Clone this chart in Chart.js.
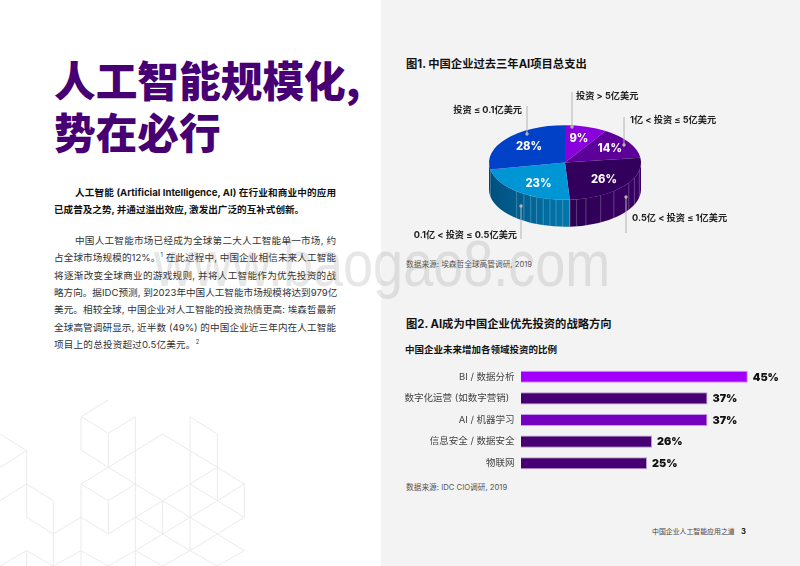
<!DOCTYPE html>
<html lang="zh-CN"><head><meta charset="utf-8">
<script src="https://cdn.jsdelivr.net/npm/chart.js@4"></script>
<style>
html,body{margin:0;padding:0;width:800px;height:566px;overflow:hidden;background:#fff;}
body{position:relative;font-family:Inter,'Noto Sans CJK SC',sans-serif;color:#222;}
#panel{position:absolute;left:381px;top:0;width:419px;height:566px;background:#f3f3f4;}
#hex{position:absolute;left:0;top:390px;}
.t{position:absolute;white-space:nowrap;line-height:1;}
#title{left:54px;top:53px;font:900 41.7px/52px 'Noto Sans CJK SC',sans-serif;color:#460073;white-space:pre;}
.para{position:absolute;left:54px;width:282px;font-size:9.6px;line-height:17.35px;color:#333;}
.para div{text-align:justify;text-align-last:justify;white-space:nowrap;}
.para .in{padding-left:21px;}
.para.b{font-weight:700;color:#111;}
sup{font-size:5.5px;line-height:0;vertical-align:super;}
.h{font-weight:700;font-size:11.3px;color:#111;}
.sub{font-weight:700;font-size:9.5px;color:#111;}
.src{font-size:7.7px;color:#555;}
#wm{position:absolute;left:154px;top:237px;font:54px/66px 'Liberation Sans',sans-serif;color:rgba(120,120,120,.18);white-space:nowrap;transform:scaleY(1.2);transform-origin:0 100%;z-index:5;}
canvas{display:block;}
#pieWrap{position:absolute;left:400px;top:80px;width:360px;height:170px;}
#barWrap{position:absolute;left:390px;top:360px;width:400px;height:120px;}
</style></head><body>
<div id="panel"></div>
<svg id="hex" width="260" height="176" viewBox="0 0 780 528" fill="none" stroke="#ebebeb" stroke-width="3">
<path d="M243 80L325 30M243 80L325 130L406 80V528M243 80V180L325 232L406 182L488 132L570 182L652 232L733 282V382L652 332L733 282M325 130V232M570 80L652 132V332M570 80V482M652 232L570 282L488 332L406 282L325 232L243 282L325 332L406 282M325 332V432M243 282V528M243 382L325 432L406 382L488 332V432L406 382M488 332L570 382L652 332L570 282M570 382L488 432M570 382L652 432L733 382M652 432L733 482L652 528M652 432L570 482L488 432L406 482L325 528M406 482L488 528L570 482L652 528"/>
<path d="M0 132L80 182L0 232M80 182V382L160 432L243 382M80 282L0 332M80 282L160 332V528L243 482L325 528M80 482L0 528M80 482L160 528M80 482V528"/>
</svg>
<div class="t" id="title">人工智能规模化,
势在必行</div>
<div class="para b" style="top:184px">
<div class="in">人工智能 (Artificial Intelligence, AI) 在行业和商业中的应用</div>
<div style="width:242px">已成普及之势, 并通过溢出效应, 激发出广泛的互补式创新。</div>
</div>
<div class="para" style="top:232px">
<div class="in">中国人工智能市场已经成为全球第二大人工智能单一市场, 约</div>
<div>占全球市场规模的12%。<sup>1</sup> 在此过程中, 中国企业相信未来人工智能</div>
<div>将逐渐改变全球商业的游戏规则, 并将人工智能作为优先投资的战</div>
<div>略方向。据IDC预测, 到2023年中国人工智能市场规模将达到979亿</div>
<div>美元。相较全球, 中国企业对人工智能的投资热情更高: 埃森哲最新</div>
<div>全球高管调研显示, 近半数 (49%) 的中国企业近三年内在人工智能</div>
<div style="width:145px">项目上的总投资超过0.5亿美元。<sup>2</sup></div>
</div>
<div class="t h" style="left:406px;top:59px">图1. 中国企业过去三年AI项目总支出</div>
<div class="t src" style="left:406px;top:261px">数据来源: 埃森哲全球高管调研, 2019</div>
<div class="t h" style="left:406px;top:319px">图2. AI成为中国企业优先投资的战略方向</div>
<div class="t sub" style="left:405px;top:345px">中国企业未来增加各领域投资的比例</div>
<div class="t src" style="left:406px;top:484px">数据来源: IDC CIO调研, 2019</div>
<div class="t" style="left:652px;top:528.5px;font-size:6.9px;color:#444">中国企业人工智能应用之道</div>
<div class="t" style="left:741px;top:528px;font-size:7.6px;font-weight:700;color:#222">3</div>
<div id="pieWrap"><canvas id="pie" width="360" height="170"></canvas></div>
<div id="barWrap"><canvas id="bar" width="400" height="120"></canvas></div>
<div id="wm">www.baogao8.com</div>
<script>
// ---- data ----
const sliceCategories = ['投资 > 5亿美元','1亿 < 投资 ≤ 5亿美元','0.5亿 < 投资 ≤ 1亿美元','0.1亿 < 投资 ≤ 0.5亿美元','投资 ≤ 0.1亿美元'];
const sliceValues = [9,14,26,23,28];
const sliceColors = ['#8a00dc','#5c0099','#32005c','#0096d6','#0041c8'];
const wallColors = [null,null,['#2c0052','#3a0066'],['#00507f','#0078ad'],['#003f80','#00507f']];
const barCategories = ['BI / 数据分析','数字化运营 (如数字营销)\u00a0\u00a0','AI / 机器学习','信息安全 / 数据安全','物联网'];
const barValues = [45,37,37,26,25];
const barColors = ['#a100ff','#460073','#7500c0','#460073','#460073'];
const barEdges = ['#d98cff','#b59bc9','#c79be6','#b59bc9','#b59bc9'];
// ---- pie drawing parameters ----
const TILT = 0.49, DEPTH = 27, LABEL_RADIUS = 0.7;
const labelNudge = [[-1,1],[0,0],[-2,1],[6,1],[5,1]];
const stripeAngles = [-39.5,-32.7,-26.8,-21.9,-16.6,-11.4,-6.8,-1.7,3.8,8.8,16,28,40,57,66,78];
const callouts = [
 {dotX:7,dotY:-35.5,endY:-70.5,textX:11,textY:-66.5,align:'left'},
 {dotX:59,dotY:-17.5,endY:-45.5,textX:65,textY:-42.5,align:'left'},
 {dotX:61,dotY:34.5,endY:70.5,textX:67,textY:55.5,align:'left'},
 {dotX:-44,dotY:43.5,endY:76.5,textX:-48,textY:72.5,align:'right'},
 {dotX:-38,dotY:-28.5,endY:-56.5,textX:-43,textY:-52.5,align:'right'}
];
const FONT = "Inter,'Noto Sans CJK SC',sans-serif";

const tiltPlugin = {
 id:'tilt',
 beforeDatasetsDraw(chart){
  const ctx = chart.ctx, arcs = chart.getDatasetMeta(0).data;
  const c = arcs[0], cx = c.x, cy = c.y, r = c.outerRadius, ry = r*TILT;
  ctx.save();
  arcs.forEach((a,i)=>{
   const s = Math.max(a.startAngle,0), e = Math.min(a.endAngle,Math.PI);
   if(e<=s||!wallColors[i]) return;
   const g = ctx.createLinearGradient(cx+r*Math.cos(e),0,cx+r*Math.cos(s),0);
   g.addColorStop(0,wallColors[i][0]); g.addColorStop(1,wallColors[i][1]);
   ctx.fillStyle = g;
   ctx.beginPath();
   ctx.ellipse(cx,cy,r,ry,0,s,e,false);
   ctx.ellipse(cx,cy+DEPTH,r,ry,0,e,s,true);
   ctx.closePath(); ctx.fill();
  });
  ctx.lineWidth = 0.8; ctx.strokeStyle = 'rgba(255,255,255,.3)';
  stripeAngles.forEach(d=>{
   const t = d*Math.PI/180, x = cx+r*Math.sin(t), y = cy+ry*Math.cos(t);
   ctx.beginPath(); ctx.moveTo(x,y); ctx.lineTo(x,y+DEPTH); ctx.stroke();
  });
  ctx.restore();
  ctx.save();
  ctx.translate(cx,cy); ctx.scale(1,TILT); ctx.translate(-cx,-cy);
 },
 afterDatasetsDraw(chart){
  const ctx = chart.ctx; ctx.restore();
  const arcs = chart.getDatasetMeta(0).data, c = arcs[0], cx = c.x, cy = c.y, r = c.outerRadius;
  ctx.save();
  ctx.textBaseline='middle';
  arcs.forEach((a,i)=>{
   const mid = (a.startAngle+a.endAngle)/2;
   ctx.fillStyle='#fff'; ctx.textAlign='center'; ctx.font='800 11.2px '+FONT;
   ctx.fillText(sliceValues[i]+'%',cx+labelNudge[i][0]+r*LABEL_RADIUS*Math.cos(mid),cy+labelNudge[i][1]+r*LABEL_RADIUS*TILT*Math.sin(mid));
   const k = callouts[i];
   ctx.strokeStyle='#b4b4b4'; ctx.fillStyle='#b4b4b4'; ctx.lineWidth=1;
   ctx.beginPath(); ctx.moveTo(cx+k.dotX,cy+k.dotY); ctx.lineTo(cx+k.dotX,cy+k.endY); ctx.stroke();
   ctx.beginPath(); ctx.arc(cx+k.dotX,cy+k.dotY,1.7,0,Math.PI*2); ctx.fill();
   ctx.fillStyle='#222'; ctx.textAlign=k.align; ctx.font='700 9.2px '+FONT;
   ctx.fillText(sliceCategories[i],cx+k.textX,cy+k.textY);
  });
  ctx.restore();
 }
};

new Chart(document.getElementById('pie'),{
 type:'pie',
 data:{labels:sliceCategories,datasets:[{data:sliceValues,backgroundColor:sliceColors,borderWidth:0,hoverOffset:0}]},
 options:{responsive:false,animation:false,radius:76,
  layout:{padding:{left:0,right:30,top:0,bottom:5}},
  plugins:{legend:{display:false},tooltip:{enabled:false},title:{display:false}}},
 plugins:[tiltPlugin]
});

const barValueLabels = {
 id:'barValueLabels',
 afterDatasetsDraw(chart){
  const ctx = chart.ctx;
  ctx.save();
  ctx.fillStyle='#111'; ctx.font='900 10.8px '+FONT; ctx.textAlign='left'; ctx.textBaseline='middle';
  chart.getDatasetMeta(0).data.forEach((b,i)=>ctx.fillText(barValues[i]+'%',b.x+5,b.y+0.5));
  ctx.restore();
 }
};
new Chart(document.getElementById('bar'),{
 type:'bar',
 data:{labels:barCategories,datasets:[{data:barValues,backgroundColor:barColors,borderColor:barEdges,borderWidth:1,barPercentage:1,categoryPercentage:0.56}]},
 options:{indexAxis:'y',responsive:false,animation:false,
  layout:{padding:{left:0,right:17,top:6,bottom:6}},
  plugins:{legend:{display:false},tooltip:{enabled:false},title:{display:false}},
  scales:{
   x:{display:false,min:0,max:50},
   y:{afterFit(s){s.width=131;s.paddingTop=0;s.paddingBottom=0;},grid:{display:false,drawTicks:false},border:{display:false},
      ticks:{padding:6.5,color:'#444',font:{family:FONT,size:9.5},autoSkip:false}}
  }},
 plugins:[barValueLabels]
});
</script>
</body></html>
